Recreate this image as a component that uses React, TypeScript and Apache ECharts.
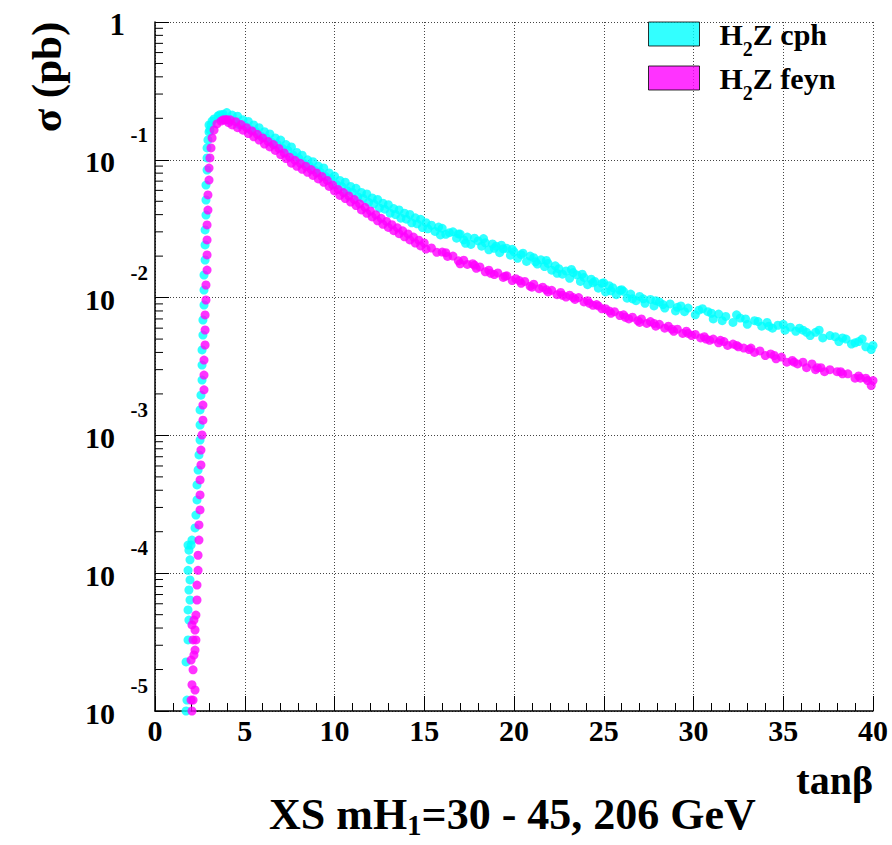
import React, { useEffect, useRef } from "react";
import * as echarts from "echarts";

// tanβ, σ (pb) — H2Z cph: steep rise
const CPH_RISE: [number, number][] = [
  [1.73, 1.0e-5], [1.78, 1.2e-5], [1.73, 2.27e-5], [1.84, 3.28e-5], [1.89, 4.57e-5],
  [1.84, 5.41e-5], [1.95, 6.39e-5], [1.89, 7.55e-5], [1.95, 8.93e-5], [1.84, 1.05e-4],
  [1.95, 1.25e-4], [1.89, 1.47e-4], [2.01, 1.6e-4], [1.84, 1.6e-4], [2.06, 1.74e-4],
  [2.23, 2.13e-4], [2.28, 2.64e-4], [2.34, 3.4e-4], [2.34, 4.37e-4], [2.4, 5.61e-4],
  [2.45, 7.21e-4], [2.51, 9.26e-4], [2.51, 1.19e-3], [2.51, 1.53e-3], [2.56, 1.96e-3],
  [2.62, 2.52e-3], [2.62, 3.24e-3], [2.62, 4.17e-3], [2.67, 5.35e-3], [2.67, 6.88e-3],
  [2.73, 8.84e-3], [2.73, 0.01135], [2.73, 0.01459], [2.79, 0.01875], [2.79, 0.0241],
  [2.79, 0.031], [2.84, 0.0397], [2.84, 0.0511], [2.84, 0.0656], [2.9, 0.0843],
  [2.9, 0.1031], [2.9, 0.1219], [2.95, 0.1393], [3.01, 0.1592], [3.01, 0.179],
  [3.06, 0.1645], [3.12, 0.179], [3.18, 0.191], [3.29, 0.198], [3.51, 0.208], [3.73, 0.211],
];

// H2Z cph: dense falling band
const CPH_FALL: [number, number][] = [
  [3.6, 0.212], [3.8, 0.214], [3.7, 0.201],
  [4.0, 0.22], [4.1, 0.193], [4.3, 0.211], [4.4, 0.191], [4.6, 0.207], [4.7, 0.18],
  [4.9, 0.195], [5.0, 0.177], [5.2, 0.19], [5.3, 0.166], [5.5, 0.179], [5.6, 0.161],
  [5.8, 0.171], [5.9, 0.149], [6.1, 0.16], [6.2, 0.144], [6.4, 0.154], [6.5, 0.134],
  [6.7, 0.144], [6.8, 0.13], [7.0, 0.139], [7.1, 0.121], [7.3, 0.129], [7.4, 0.117],
  [7.6, 0.124], [7.7, 0.108], [7.9, 0.113], [8.0, 0.103], [8.2, 0.108], [8.3, 0.094],
  [8.5, 0.1], [8.6, 0.0907], [8.8, 0.0968], [8.9, 0.0842], [9.1, 0.09], [9.2, 0.0814],
  [9.4, 0.0872], [9.5, 0.0758], [9.7, 0.0803], [9.8, 0.0727], [10.0, 0.0762], [10.1, 0.0662],
  [10.3, 0.0709], [10.4, 0.0641], [10.6, 0.0687], [10.7, 0.0597], [10.9, 0.0641], [11.0, 0.058],
  [11.2, 0.0621], [11.3, 0.0539], [11.5, 0.058], [11.6, 0.0524], [11.8, 0.0565], [11.9, 0.0491],
  [12.1, 0.0529], [12.2, 0.0479], [12.4, 0.0515], [12.5, 0.0447], [12.7, 0.0484], [12.8, 0.0438],
  [13.0, 0.0472], [13.1, 0.041], [13.3, 0.0443], [13.4, 0.0401], [13.6, 0.0433], [13.7, 0.0377],
  [13.9, 0.041], [14.0, 0.0371], [14.2, 0.0401], [14.3, 0.0349], [14.5, 0.0379], [14.6, 0.0343],
  [14.8, 0.037], [14.9, 0.0322], [15.1, 0.035], [15.2, 0.0316],
];

// H2Z cph: scattered tail
const CPH_TAIL: [number, number][] = [
  [15.4, 0.0335], [15.6, 0.0302], [15.8, 0.0325], [16.0, 0.0318], [16.2, 0.0288], [16.4, 0.0296],
  [16.6, 0.03], [16.8, 0.027], [17.0, 0.0289], [17.2, 0.0262], [17.4, 0.0275], [17.6, 0.0243],
  [17.8, 0.027], [18.0, 0.0258], [18.2, 0.0236], [18.4, 0.025], [18.6, 0.0222], [18.8, 0.0245],
  [19.0, 0.0236], [19.2, 0.0212], [19.4, 0.0226], [19.6, 0.0228], [19.8, 0.0203], [20.0, 0.0215],
  [20.2, 0.0193], [20.4, 0.0205], [20.7, 0.0183], [20.9, 0.02], [21.1, 0.0195], [21.3, 0.0175],
  [21.5, 0.0188], [21.7, 0.0168], [21.9, 0.0177], [22.1, 0.0158], [22.3, 0.017], [22.5, 0.0162],
  [22.7, 0.0148], [22.9, 0.0156], [23.1, 0.0138], [23.3, 0.0152], [23.5, 0.0146], [23.7, 0.0131],
  [23.9, 0.014], [24.1, 0.0124], [24.3, 0.0136], [24.5, 0.0131], [24.7, 0.0117], [24.9, 0.0127],
  [25.1, 0.011], [25.3, 0.0122], [25.5, 0.0118], [25.7, 0.0105], [25.9, 0.0113], [26.1, 0.0111],
  [26.3, 0.0099], [26.5, 0.0106], [26.8, 0.0095], [27.0, 0.0102], [27.3, 0.0091], [27.6, 0.0097],
  [27.8, 0.0087], [28.1, 0.0093], [28.4, 0.0084], [28.7, 0.009], [29.0, 0.008], [29.3, 0.0087],
  [29.7, 0.0084], [30.1, 0.0075], [30.3, 0.0081], [30.8, 0.0079], [31.1, 0.007], [31.4, 0.0076],
  [31.8, 0.0073], [32.2, 0.0066], [32.6, 0.0071], [33.0, 0.0064], [33.4, 0.0068], [33.8, 0.0062],
  [34.1, 0.0066], [34.4, 0.006], [34.7, 0.0063], [35.1, 0.0058], [35.4, 0.0061], [35.7, 0.0057],
  [36.1, 0.0058], [36.5, 0.0053], [36.8, 0.0056], [37.2, 0.0051], [37.6, 0.0053], [38.1, 0.0048],
  [38.5, 0.005], [38.8, 0.0046], [39.2, 0.0048], [39.6, 0.0044], [39.9, 0.0042], [40.0, 0.0045],
  [15.9, 0.0285], [16.9, 0.029], [17.3, 0.0248], [18.3, 0.0268], [18.9, 0.0228], [19.3, 0.024],
  [19.9, 0.0224], [20.5, 0.021], [21.2, 0.0182], [21.8, 0.0186], [22.4, 0.015], [23.2, 0.016],
  [23.8, 0.0148], [24.4, 0.0128], [25.0, 0.0128], [25.4, 0.0112], [26.0, 0.0114], [26.6, 0.0098],
  [27.2, 0.0098], [27.9, 0.0095], [28.3, 0.0089], [29.1, 0.0085], [29.5, 0.0079], [30.5, 0.0083],
  [31.0, 0.0077], [31.6, 0.0068], [32.4, 0.0075], [32.9, 0.007], [33.6, 0.0067], [34.2, 0.0062],
  [35.0, 0.0064], [35.9, 0.006], [36.3, 0.0056], [37.0, 0.0058], [37.9, 0.0052], [38.3, 0.0051],
  [39.0, 0.0047], [39.4, 0.005],
];

// H2Z feyn: steep rise
const FEYN_RISE: [number, number][] = [
  [2.06, 1.0e-5], [2.12, 1.2e-5], [2.01, 1.2e-5], [2.23, 1.42e-5], [2.06, 1.55e-5], [2.12, 1.99e-5],
  [2.01, 2.34e-5], [2.17, 2.55e-5], [2.23, 2.77e-5], [2.12, 3.28e-5], [2.28, 3.28e-5], [2.23, 3.87e-5],
  [2.06, 4.21e-5], [2.17, 4.57e-5], [2.28, 4.97e-5], [2.34, 6.39e-5], [2.34, 8.2e-5], [2.4, 1.05e-4],
  [2.4, 1.35e-4], [2.45, 1.74e-4], [2.45, 2.24e-4], [2.51, 2.88e-4], [2.51, 3.7e-4], [2.51, 4.75e-4],
  [2.56, 6.1e-4], [2.56, 7.83e-4], [2.62, 1.007e-3], [2.67, 1.29e-3], [2.67, 1.66e-3], [2.73, 2.14e-3],
  [2.73, 2.74e-3], [2.73, 3.52e-3], [2.79, 4.53e-3], [2.79, 5.82e-3], [2.79, 7.48e-3], [2.84, 9.61e-3],
  [2.84, 0.01234], [2.9, 0.01585], [2.9, 0.0204], [2.9, 0.0262], [2.9, 0.0337], [2.95, 0.0432],
  [2.95, 0.0556], [3.01, 0.0713], [3.01, 0.0871], [3.06, 0.1031], [3.12, 0.1219], [3.18, 0.1439],
  [3.29, 0.1645], [3.45, 0.182], [3.68, 0.191], [3.9, 0.1945],
];

// H2Z feyn: dense falling band
const FEYN_FALL: [number, number][] = [
  [3.8, 0.195], [4.0, 0.196], [4.1, 0.186], [4.2, 0.195], [4.3, 0.179], [4.5, 0.189], [4.6, 0.171],
  [4.8, 0.18], [4.9, 0.164], [5.1, 0.171], [5.2, 0.155], [5.4, 0.162], [5.5, 0.147], [5.7, 0.153],
  [5.8, 0.139], [6.0, 0.144], [6.1, 0.13], [6.3, 0.136], [6.4, 0.124], [6.6, 0.129], [6.7, 0.117],
  [6.9, 0.121], [7.0, 0.109], [7.2, 0.112], [7.3, 0.102], [7.5, 0.1045], [7.6, 0.0945], [7.8, 0.0992],
  [7.9, 0.0898], [8.1, 0.0943], [8.2, 0.0853], [8.4, 0.0898], [8.5, 0.0812], [8.7, 0.085], [8.8, 0.077],
  [9.0, 0.0803], [9.1, 0.0727], [9.3, 0.0758], [9.4, 0.0686], [9.6, 0.0709], [9.7, 0.0641], [9.9, 0.0656],
  [10.0, 0.0594], [10.2, 0.0609], [10.3, 0.0551], [10.5, 0.0578], [10.6, 0.0523], [10.8, 0.0546],
  [10.9, 0.0494], [11.1, 0.0515], [11.2, 0.0466], [11.4, 0.0479], [11.5, 0.0433], [11.7, 0.0452],
  [11.8, 0.0409], [12.0, 0.0425], [12.1, 0.0385], [12.3, 0.0399], [12.4, 0.0361], [12.6, 0.0376],
  [12.7, 0.034], [12.9, 0.0357], [13.0, 0.0323], [13.2, 0.0338], [13.3, 0.0306], [13.5, 0.0321],
  [13.6, 0.0291], [13.8, 0.0305], [13.9, 0.0276], [14.1, 0.029], [14.2, 0.0262], [14.4, 0.0275],
  [14.5, 0.0249], [14.7, 0.0261], [14.8, 0.0237], [15.0, 0.0249], [15.1, 0.0225],
];

// H2Z feyn: tail
const FEYN_TAIL: [number, number][] = [
  [15.4, 0.0229], [15.7, 0.0213], [16.0, 0.0214], [16.3, 0.0199], [16.6, 0.02], [16.9, 0.0185],
  [17.2, 0.0187], [17.4, 0.0174], [17.7, 0.0176], [17.9, 0.0163], [18.1, 0.0167], [18.4, 0.0154],
  [18.6, 0.0158], [18.9, 0.0147], [19.1, 0.0151], [19.4, 0.014], [19.6, 0.0144], [19.9, 0.0133],
  [20.1, 0.0137], [20.4, 0.0127], [20.6, 0.0131], [20.9, 0.0121], [21.1, 0.0125], [21.4, 0.0116],
  [21.6, 0.0119], [21.9, 0.011], [22.1, 0.0113], [22.4, 0.0105], [22.6, 0.0109], [22.9, 0.0101],
  [23.1, 0.0104], [23.4, 0.0097], [23.6, 0.01], [23.9, 0.0093], [24.1, 0.0095], [24.4, 0.0088],
  [24.6, 0.0089], [24.9, 0.0083], [25.1, 0.0083], [25.4, 0.0077], [25.6, 0.0079], [25.9, 0.0074],
  [26.1, 0.0075], [26.4, 0.007], [26.6, 0.0072], [26.9, 0.0068], [27.1, 0.007], [27.4, 0.0065],
  [27.6, 0.0067], [27.9, 0.0062], [28.1, 0.0064], [28.4, 0.006], [28.6, 0.0062], [28.9, 0.0057],
  [29.1, 0.0059], [29.4, 0.0055], [29.6, 0.0057], [29.9, 0.0053], [30.1, 0.0054], [30.4, 0.0051],
  [30.6, 0.0052], [30.9, 0.0049], [31.1, 0.005], [31.4, 0.0047], [31.7, 0.0048], [31.9, 0.0045],
  [32.2, 0.0046], [32.5, 0.0044], [32.8, 0.0043], [33.1, 0.0042], [33.4, 0.004], [33.7, 0.0041],
  [34.0, 0.0038], [34.3, 0.0039], [34.6, 0.0036], [34.9, 0.0037], [35.2, 0.0034], [35.5, 0.0035],
  [35.8, 0.0033], [36.1, 0.0034], [36.3, 0.0031], [36.6, 0.0033], [36.8, 0.003], [37.1, 0.0031],
  [37.3, 0.0029], [37.6, 0.003], [38.0, 0.0029], [38.3, 0.0028], [38.6, 0.0028], [39.0, 0.0026],
  [39.2, 0.0027], [39.6, 0.0026], [39.7, 0.0025], [39.9, 0.0023], [40.0, 0.0025],
  [16.2, 0.0212], [17.0, 0.0176], [17.8, 0.0172], [18.7, 0.015], [19.5, 0.0143], [20.3, 0.0133],
  [21.0, 0.0119], [21.8, 0.0114], [22.7, 0.0104], [23.3, 0.01], [24.2, 0.0091], [24.7, 0.0087],
  [25.3, 0.008], [26.2, 0.0072], [27.0, 0.0066], [27.8, 0.0065], [28.8, 0.0059], [29.7, 0.0055],
  [30.7, 0.005], [31.5, 0.0049], [32.4, 0.0045], [33.2, 0.0043], [34.5, 0.0038], [35.6, 0.0034],
  [36.9, 0.0031], [38.2, 0.0029], [39.3, 0.0026],
];

const SERIES_NAMES = ["H₂Z cph", "H₂Z feyn"];
const SERIES_COLORS = ["#00ffff", "#ff00ff"];
const Y_MINOR_MANTISSAS = [2, 3, 4, 5, 6, 7, 8, 9];
const Y_DECADES = [-5, -4, -3, -2, -1];

const FONT = '"Liberation Serif", "Times New Roman", serif';

export default function App() {
  const ref = useRef<HTMLDivElement>(null);

  useEffect(() => {
    if (!ref.current) return;
    const chart = echarts.init(ref.current, undefined, { renderer: "svg" });

    const minorY: [number, number][] = [];
    Y_DECADES.forEach((d) =>
      Y_MINOR_MANTISSAS.forEach((m) => minorY.push([0, m * Math.pow(10, d)]))
    );

    const bold = (size: number) => ({
      fontFamily: FONT,
      fontWeight: "bold" as const,
      fontSize: size,
      color: "#000",
    });

    const gridLine = { show: true, lineStyle: { color: "#444", type: [1, 2], width: 1 } };

    chart.setOption({
      animation: false,
      backgroundColor: "#fff",
      grid: {
        left: 155,
        right: 19,
        top: 22,
        bottom: 134,
        containLabel: false,
        outerBoundsMode: "none",
      },
      title: {
        text: "{a|XS mH}{s|1}{a|=30 - 45, 206 GeV}",
        left: 264,
        top: 784,
        textStyle: {
          rich: {
            a: { ...bold(44), lineHeight: 50 },
            s: { ...bold(29), lineHeight: 50, padding: [22, 0, 0, 0] },
          },
        },
      },
      legend: {
        data: SERIES_NAMES,
        orient: "vertical",
        left: 643,
        top: 14,
        itemWidth: 51,
        itemHeight: 24,
        itemGap: 4,
        icon: "rect",
        itemStyle: { borderColor: "#000", borderWidth: 1 },
        formatter: (name: string) => `{t|H}{s|2}{t|${name.replace("H₂", "")}}`,
        textStyle: {
          padding: [0, 0, 0, 15],
          rich: {
            t: { ...bold(30), lineHeight: 30 },
            s: { ...bold(20), lineHeight: 50, verticalAlign: "bottom" },
          },
        },
      },
      xAxis: {
        type: "value",
        min: 0,
        max: 40,
        interval: 5,
        axisLine: { show: true, onZero: false, lineStyle: { color: "#000", width: 1.5 } },
        axisTick: { show: true, inside: true, length: 15, lineStyle: { color: "#000", width: 1 } },
        minorTick: { show: true, splitNumber: 5, length: 8, lineStyle: { color: "#000", width: 1 } },
        axisLabel: { margin: 4, ...bold(30) },
        splitLine: gridLine,
      },
      yAxis: {
        type: "log",
        logBase: 10,
        min: 1e-5,
        max: 1,
        axisLine: { show: true, onZero: false, lineStyle: { color: "#000", width: 1.5 } },
        axisTick: { show: true, inside: true, length: 14, lineStyle: { color: "#000", width: 1 } },
        axisLabel: {
          margin: 7,
          showMinLabel: true,
          showMaxLabel: true,
          padding: [0, 0, 20, 0],
          formatter: (v: number) => {
            const k = Math.round(Math.log10(v));
            if (k === 0) return "{e| }\n{o|1}{sp1| }";
            return `{e|${k}}\n{b|10}{sp| }`;
          },
          rich: {
            e: { ...bold(21), lineHeight: 24 },
            b: { ...bold(30), lineHeight: 30 },
            o: { ...bold(31), lineHeight: 30 },
            sp: { ...bold(30), lineHeight: 30, width: 33 },
            sp1: { ...bold(30), lineHeight: 30, width: 23 },
          },
        },
        splitLine: gridLine,
      },
      graphic: [
        {
          type: "text",
          x: 46,
          y: 77,
          rotation: Math.PI / 2,
          style: {
            text: "σ (pb)",
            fontFamily: FONT,
            fontWeight: "bold",
            fontSize: 43,
            fill: "#000",
            align: "center",
            verticalAlign: "middle",
          },
        },
        {
          type: "text",
          x: 873,
          y: 780,
          style: {
            text: "tanβ",
            fontFamily: FONT,
            fontWeight: "bold",
            fontSize: 40,
            fill: "#000",
            align: "right",
            verticalAlign: "middle",
          },
        },
      ],
      series: [
        {
          name: SERIES_NAMES[0],
          type: "scatter",
          data: [...CPH_RISE, ...CPH_FALL, ...CPH_TAIL],
          symbol: "circle",
          symbolSize: 9,
          itemStyle: { color: SERIES_COLORS[0] },
          silent: true,
          z: 2,
        },
        {
          name: SERIES_NAMES[1],
          type: "scatter",
          data: [...FEYN_RISE, ...FEYN_FALL, ...FEYN_TAIL],
          symbol: "circle",
          symbolSize: 9,
          itemStyle: { color: SERIES_COLORS[1] },
          silent: true,
          z: 3,
        },
        {
          type: "custom",
          coordinateSystem: "cartesian2d",
          data: minorY,
          silent: true,
          z: 5,
          renderItem: (_params: any, api: any) => {
            const p = api.coord([0, api.value(1)]);
            return {
              type: "line",
              shape: { x1: p[0], y1: p[1], x2: p[0] + 8, y2: p[1] },
              style: { stroke: "#000", lineWidth: 1 },
            };
          },
        },
      ],
    });

    return () => chart.dispose();
  }, []);

  return (
    <div
      ref={ref}
      style={{ position: "absolute", left: 0, top: 0, width: 892, height: 845, background: "#fff" }}
    />
  );
}
